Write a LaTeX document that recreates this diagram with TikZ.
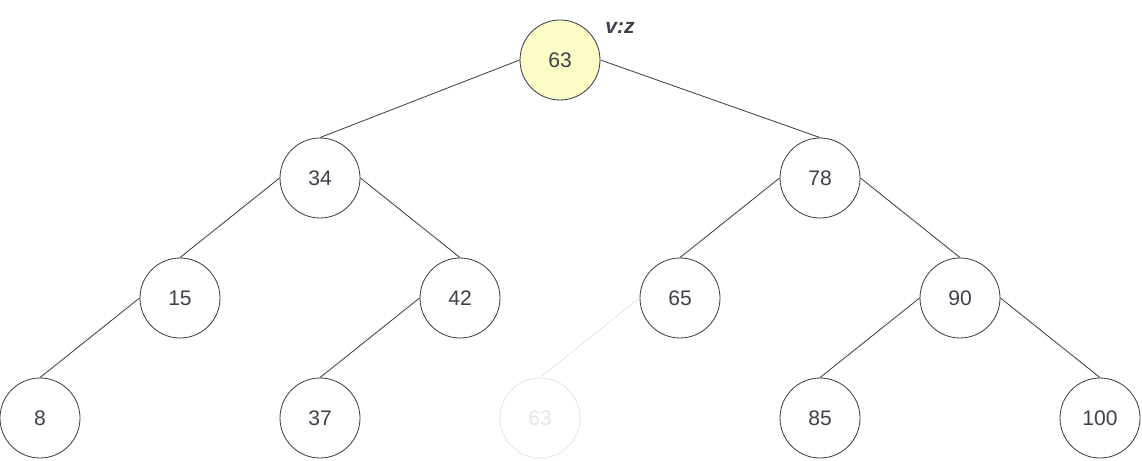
\documentclass[tikz,border=0pt]{standalone}
\usepackage{fontspec}
\setmainfont{Liberation Sans}
\usetikzlibrary{positioning}
\definecolor{inkgray}{HTML}{3D414C}
\definecolor{paleyellow}{HTML}{FCFCC6}
\definecolor{fadegray}{HTML}{E3E5EA}

\begin{document}
\begin{tikzpicture}[
		treenode/.style={draw=inkgray, circle, line width=0.6pt, minimum size=2cm, inner sep=0pt, text=inkgray, font=\fontsize{15}{17}\selectfont},
		current/.style={treenode, fill=paleyellow},
		ghost/.style={treenode, draw=fadegray, text=fadegray},
		edge/.style={draw=inkgray, line width=0.6pt},
	]
	\useasboundingbox (0, 0) rectangle (28.55, -11.525);

	\node[current] (n63) at (14, -1.5) {63};
	\node[text=inkgray, font=\fontsize{15}{17}\selectfont\bfseries\itshape] (vz) at (15.5, -0.7) {v:z};

	\node[treenode] (n34) at (8, -4.45) {34};
	\node[treenode] (n78) at (20.5, -4.45) {78};

	\node[treenode] (n15) at (4.5, -7.45) {15};
	\node[treenode] (n42) at (11.5, -7.45) {42};
	\node[treenode] (n65) at (17, -7.45) {65};
	\node[treenode] (n90) at (24, -7.45) {90};

	\node[treenode] (n8) at (1, -10.45) {8};
	\node[treenode] (n37) at (8, -10.45) {37};
	\node[ghost] (n63b) at (13.5, -10.45) {63};
	\node[treenode] (n85) at (20.5, -10.45) {85};
	\node[treenode] (n100) at (27.5, -10.45) {100};

	\draw[edge] (n63.west) -- (n34.north);
	\draw[edge] (n63.east) -- (n78.north);
	\draw[edge] (n34.west) -- (n15.north);
	\draw[edge] (n34.east) -- (n42.north);
	\draw[edge] (n78.west) -- (n65.north);
	\draw[edge] (n78.east) -- (n90.north);
	\draw[edge] (n15.west) -- (n8.north);
	\draw[edge] (n42.west) -- (n37.north);
	\draw[edge, draw=fadegray] (n65.west) -- (n63b.north);
	\draw[edge] (n90.west) -- (n85.north);
	\draw[edge] (n90.east) -- (n100.north);
\end{tikzpicture}
\end{document}
